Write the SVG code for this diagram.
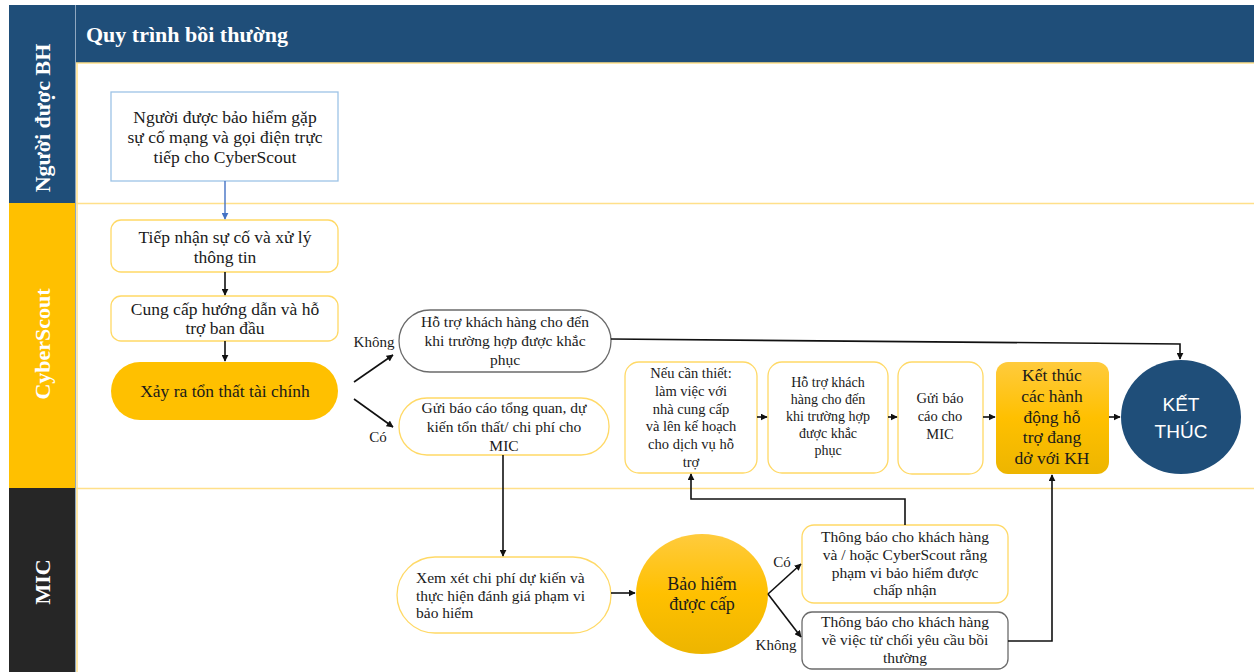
<svg xmlns="http://www.w3.org/2000/svg" width="1254" height="672" viewBox="0 0 1254 672">
<style>
.t{font-family:"Liberation Serif","Times New Roman",serif;fill:#1a1a1a;text-anchor:middle}
.lane{font-family:"Liberation Serif","Times New Roman",serif;fill:#fff;font-weight:bold;font-size:22px;text-anchor:middle}
.yb{fill:#fff;stroke:#FFD966;stroke-width:1.3}
.gb{fill:#fff;stroke:#6b6b6b;stroke-width:1.3}
.c{fill:none;stroke:#111;stroke-width:1.6}
.sep{stroke:#FFE08A;stroke-width:1.5}
</style>
<defs>
<marker id="ah" viewBox="0 0 10 10" refX="9" refY="5" markerWidth="7" markerHeight="7" markerUnits="userSpaceOnUse" orient="auto"><path d="M0,0L10,5L0,10z" fill="#111"/></marker>
<marker id="ahb" viewBox="0 0 10 10" refX="9" refY="5" markerWidth="7" markerHeight="7" markerUnits="userSpaceOnUse" orient="auto"><path d="M0,0L10,5L0,10z" fill="#4472C4"/></marker>
<linearGradient id="gold" x1="0" y1="0" x2="0" y2="1"><stop offset="0" stop-color="#FFCB3D"/><stop offset="0.5" stop-color="#FFC000"/><stop offset="1" stop-color="#EDB500"/></linearGradient>
</defs>
<rect x="0" y="0" width="1254" height="672" fill="#fff"/>
<g id="frame">
<rect x="75" y="5" width="1179" height="58" fill="#1F4E79"/>
<rect x="9" y="5" width="66" height="198" fill="#1F4E79"/>
<rect x="9" y="203" width="66" height="285" fill="#FFC000"/>
<rect x="9" y="488" width="66" height="184" fill="#262626"/>
<line x1="75.5" y1="5" x2="75.5" y2="672" stroke="#8FA7C0" stroke-width="1"/>
<line x1="76" y1="63" x2="1254" y2="63" class="sep"/>
<line x1="77" y1="63" x2="77" y2="672" class="sep"/>
<line x1="76" y1="203.5" x2="1254" y2="203.5" class="sep"/>
<line x1="76" y1="488.5" x2="1254" y2="488.5" class="sep"/>
<text x="86" y="42" font-family="Liberation Serif,serif" font-weight="bold" font-size="22" fill="#fff">Quy trình bồi thường</text>
<text class="lane" transform="translate(50,118) rotate(-90)">Người được BH</text>
<text class="lane" transform="translate(50,344) rotate(-90)">CyberScout</text>
<text class="lane" transform="translate(50,582) rotate(-90)">MIC</text>
</g>
<g id="n1">
<rect x="111" y="92" width="227" height="89" fill="#fff" stroke="#9DC3E6" stroke-width="1.3"/>
<text class="t" font-size="17.5"><tspan x="225" y="123">Người được bảo hiểm gặp</tspan><tspan x="225" y="143">sự cố mạng và gọi điện trực</tspan><tspan x="225" y="163">tiếp cho CyberScout</tspan></text>
</g>
<g id="n2">
<rect x="111" y="220" width="227" height="52" rx="10" class="yb"/>
<text class="t" font-size="17.5"><tspan x="225" y="243">Tiếp nhận sự cố và xử lý</tspan><tspan x="225" y="263">thông tin</tspan></text>
</g>
<g id="n3">
<rect x="111" y="296" width="227" height="45" rx="10" class="yb"/>
<text class="t" font-size="17.5"><tspan x="225" y="315">Cung cấp hướng dẫn và hỗ</tspan><tspan x="225" y="334">trợ ban đầu</tspan></text>
</g>
<g id="n4">
<rect x="111" y="362" width="227" height="58" rx="29" fill="#FFC000"/>
<text class="t" font-size="17.5" x="225" y="397">Xảy ra tổn thất tài chính</text>
</g>
<g id="n5">
<rect x="399" y="310" width="212" height="62" rx="31" class="gb"/>
<text class="t" font-size="15.5"><tspan x="505" y="327">Hỗ trợ khách hàng cho đến</tspan><tspan x="505" y="346">khi trường hợp được khắc</tspan><tspan x="505" y="365">phục</tspan></text>
</g>
<g id="n6">
<rect x="399" y="398" width="210" height="57" rx="28" class="yb"/>
<text class="t" font-size="15.5"><tspan x="504" y="413">Gửi báo cáo tổng quan, dự</tspan><tspan x="504" y="432">kiến tổn thất/ chi phí cho</tspan><tspan x="504" y="451">MIC</tspan></text>
</g>
<g id="n7">
<rect x="625" y="362" width="132" height="111" rx="14" class="yb"/>
<text class="t" font-size="14.5"><tspan x="691" y="378">Nếu cần thiết:</tspan><tspan x="691" y="396">làm việc với</tspan><tspan x="691" y="414">nhà cung cấp</tspan><tspan x="691" y="431">và lên kế hoạch</tspan><tspan x="691" y="449">cho dịch vụ hỗ</tspan><tspan x="691" y="467">trợ</tspan></text>
</g>
<g id="n8">
<rect x="768" y="362" width="120" height="111" rx="14" class="yb"/>
<text class="t" font-size="14"><tspan x="828" y="387">Hỗ trợ khách</tspan><tspan x="828" y="404">hàng cho đến</tspan><tspan x="828" y="421">khi trường hợp</tspan><tspan x="828" y="438">được khắc</tspan><tspan x="828" y="455">phục</tspan></text>
</g>
<g id="n9">
<rect x="898" y="362" width="85" height="112" rx="14" class="yb"/>
<text class="t" font-size="14.5"><tspan x="940" y="403">Gửi báo</tspan><tspan x="940" y="421">cáo cho</tspan><tspan x="940" y="439">MIC</tspan></text>
</g>
<g id="n10">
<rect x="996" y="362" width="113" height="112" rx="12" fill="url(#gold)"/>
<text class="t" font-size="17.5"><tspan x="1052" y="381">Kết thúc</tspan><tspan x="1052" y="402">các hành</tspan><tspan x="1052" y="423">động hỗ</tspan><tspan x="1052" y="443">trợ đang</tspan><tspan x="1052" y="464">dở với KH</tspan></text>
</g>
<g id="n_end">
<ellipse cx="1181" cy="417" rx="60" ry="57" fill="#1F4E79"/>
<text font-family="Liberation Sans,Arial,sans-serif" font-size="19" fill="#fff" text-anchor="middle"><tspan x="1181" y="411">KẾT</tspan><tspan x="1181" y="438">THÚC</tspan></text>
</g>
<g id="n11">
<rect x="397" y="557" width="214" height="76" rx="38" class="yb"/>
<text class="t" font-size="15.5" text-anchor="start" style="text-anchor:start"><tspan x="416" y="583">Xem xét chi phí dự kiến và</tspan><tspan x="416" y="601">thực hiện đánh giá phạm vi</tspan><tspan x="416" y="618">bảo hiểm</tspan></text>
</g>
<g id="n12">
<ellipse cx="702" cy="594" rx="66" ry="60" fill="url(#gold)"/>
<text class="t" font-size="18"><tspan x="702" y="590">Bảo hiểm</tspan><tspan x="702" y="610">được cấp</tspan></text>
</g>
<g id="n13">
<rect x="802" y="525" width="206" height="78" rx="12" class="yb"/>
<text class="t" font-size="15.5"><tspan x="905" y="542">Thông báo cho khách hàng</tspan><tspan x="905" y="560">và / hoặc CyberScout rằng</tspan><tspan x="905" y="578">phạm vi bảo hiểm được</tspan><tspan x="905" y="595">chấp nhận</tspan></text>
</g>
<g id="n14">
<rect x="802" y="612" width="206" height="57" rx="10" class="gb"/>
<text class="t" font-size="15.5"><tspan x="905" y="627">Thông báo cho khách hàng</tspan><tspan x="905" y="645">về việc từ chối yêu cầu bồi</tspan><tspan x="905" y="663">thường</tspan></text>
</g>
<g id="connectors">
<line x1="225" y1="181" x2="225" y2="219" stroke="#4472C4" stroke-width="1.4" marker-end="url(#ahb)"/>
<line x1="225" y1="272" x2="225" y2="295" class="c" marker-end="url(#ah)"/>
<line x1="225" y1="341" x2="225" y2="361" class="c" marker-end="url(#ah)"/>
<line x1="354" y1="382" x2="393" y2="355" class="c" marker-end="url(#ah)"/>
<line x1="354" y1="399" x2="393" y2="427" class="c" marker-end="url(#ah)"/>
<path d="M611,339 L1180,344 L1180,359" class="c" marker-end="url(#ah)"/>
<line x1="503" y1="455" x2="503" y2="556" class="c" marker-end="url(#ah)"/>
<line x1="757" y1="417" x2="767" y2="417" class="c" marker-end="url(#ah)"/>
<line x1="888" y1="417" x2="897" y2="417" class="c" marker-end="url(#ah)"/>
<line x1="983" y1="417" x2="995" y2="417" class="c" marker-end="url(#ah)"/>
<line x1="1109" y1="417" x2="1120" y2="417" class="c" marker-end="url(#ah)"/>
<line x1="611" y1="593" x2="635" y2="593" class="c" marker-end="url(#ah)"/>
<line x1="768" y1="594" x2="801" y2="564" class="c" marker-end="url(#ah)"/>
<line x1="768" y1="594" x2="801" y2="637" class="c" marker-end="url(#ah)"/>
<path d="M905,525 L905,499 L691,499 L691,474" class="c" marker-end="url(#ah)"/>
<path d="M1008,641 L1052,641 L1052,475" class="c" marker-end="url(#ah)"/>
<text class="t" font-size="15" x="374" y="347">Không</text>
<text class="t" font-size="15" x="378" y="442">Có</text>
<text class="t" font-size="15" x="782" y="567">Có</text>
<text class="t" font-size="15" x="776" y="650">Không</text>
</g>
</svg>
